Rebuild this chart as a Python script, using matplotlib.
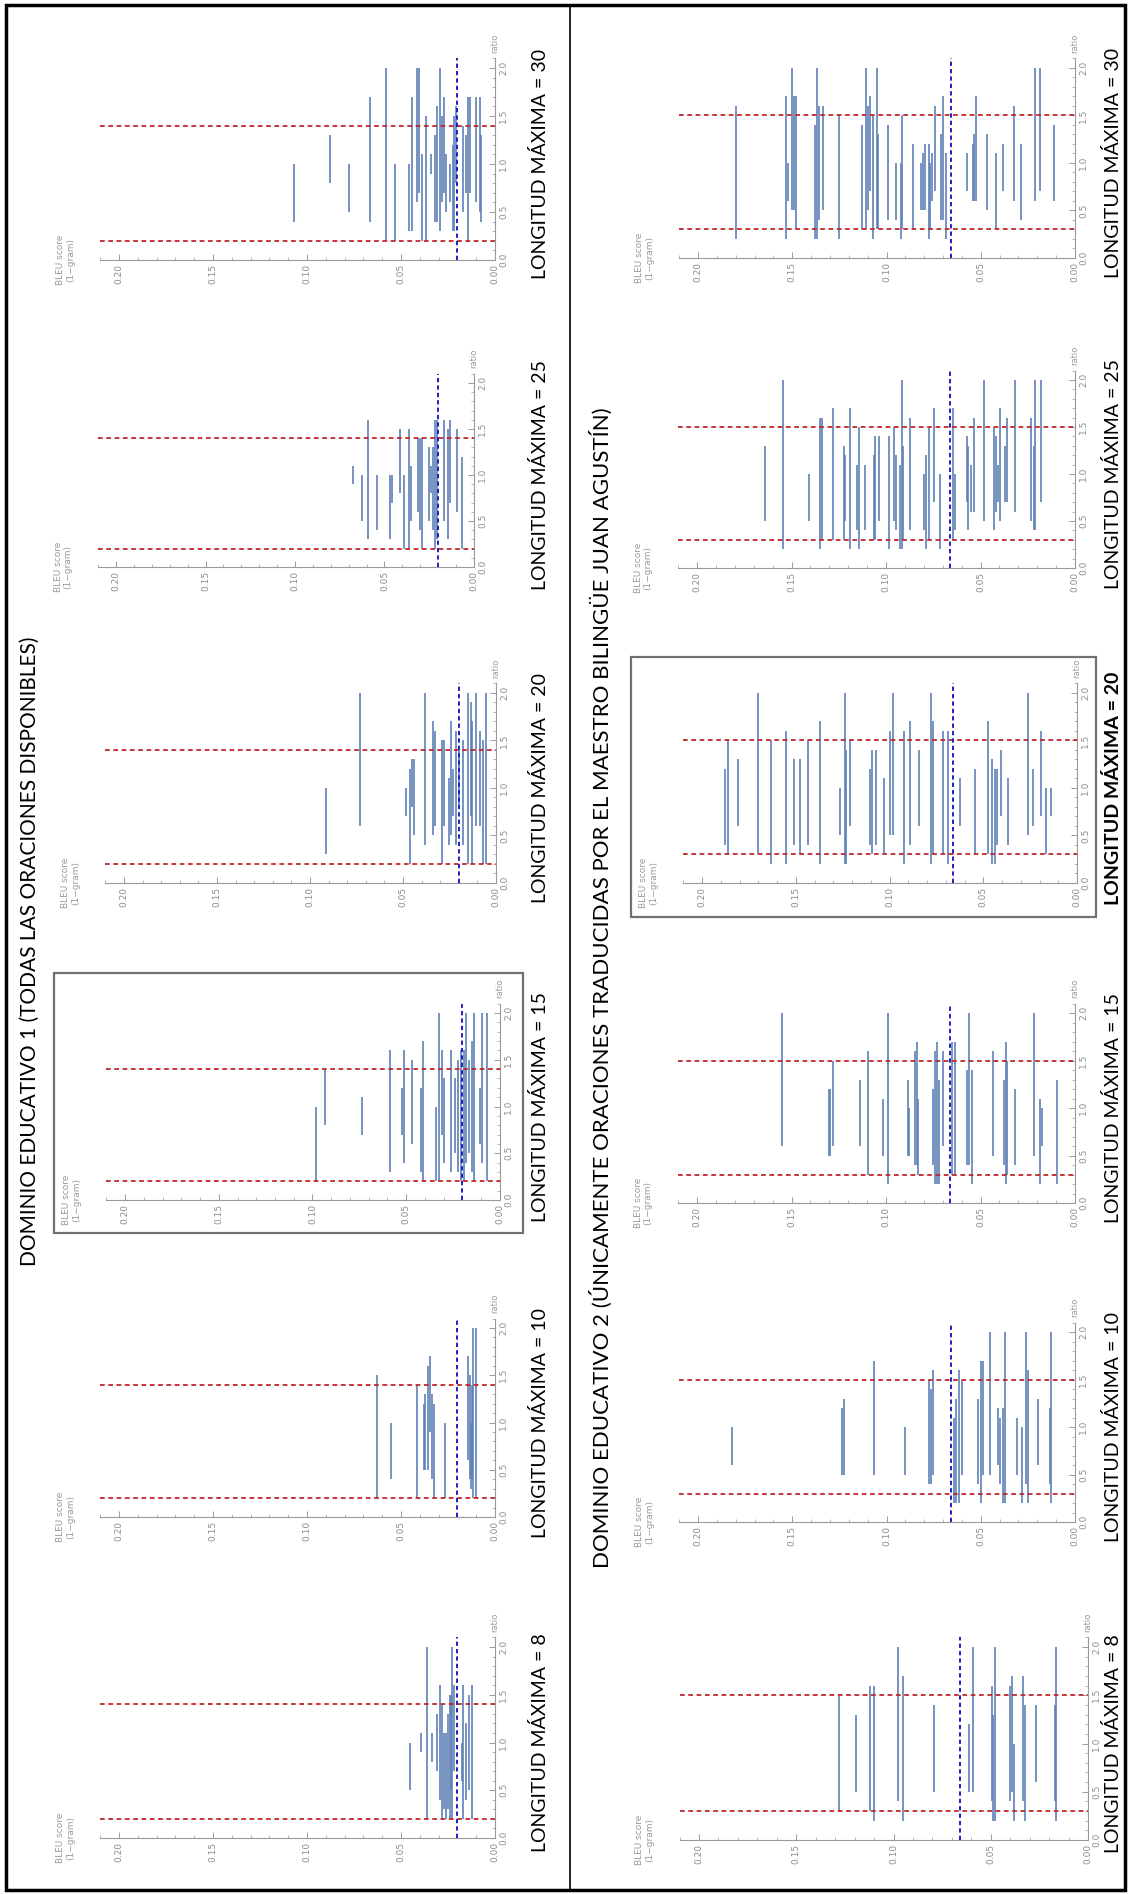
import matplotlib
matplotlib.use('Agg')
import matplotlib.pyplot as plt
from matplotlib.ticker import MultipleLocator
from matplotlib.patches import Rectangle
from matplotlib.lines import Line2D

# ---- data: (BLEU 1-gram, ratio low, ratio high) per sentence range ----
lengths = [8, 10, 15, 20, 25, 30]

d1_l8 = [(0.045, 0.5, 1.0), (0.0395, 0.9, 1.1), (0.036, 0.2, 2.0), (0.0335, 0.8, 1.1),
         (0.031, 0.7, 1.3), (0.029, 0.4, 1.6), (0.028, 0.2, 1.4), (0.027, 0.3, 1.1),
         (0.026, 0.2, 1.1), (0.025, 0.3, 1.3), (0.024, 0.2, 1.5), (0.023, 0.2, 2.0),
         (0.022, 0.7, 1.6), (0.0235, 0.5, 1.5), (0.0175, 0.6, 1.0), (0.0168, 0.2, 1.6),
         (0.0155, 0.4, 1.2), (0.0139, 0.5, 1.5), (0.012, 0.2, 1.6)]
d1_l10 = [(0.063, 0.2, 1.5), (0.0555, 0.4, 1.0), (0.0416, 0.2, 1.4), (0.038, 0.5, 1.2),
          (0.037, 0.5, 1.3), (0.0356, 0.5, 1.6), (0.0348, 0.9, 1.7), (0.0337, 0.4, 1.3),
          (0.0323, 0.2, 1.2), (0.0265, 0.2, 1.0), (0.0143, 0.6, 1.7), (0.0135, 0.4, 1.5),
          (0.013, 0.3, 1.0), (0.012, 0.4, 1.4), (0.0116, 0.2, 2.0), (0.010, 0.2, 2.0)]
d1_l15 = [(0.098, 0.2, 1.0), (0.0936, 0.8, 1.4), (0.0734, 0.7, 1.1), (0.0586, 0.3, 1.6),
          (0.052, 0.7, 1.2), (0.051, 0.4, 1.6), (0.047, 0.6, 1.5), (0.042, 0.3, 1.2),
          (0.041, 0.2, 1.7), (0.034, 0.2, 1.0), (0.0326, 0.2, 2.0), (0.031, 0.7, 1.6),
          (0.0297, 0.4, 1.3), (0.026, 0.3, 1.6), (0.024, 0.5, 1.3), (0.0225, 0.3, 1.5),
          (0.021, 0.2, 1.6), (0.019, 0.2, 1.6), (0.018, 0.4, 2.0), (0.0165, 0.5, 1.5),
          (0.015, 0.3, 1.7), (0.014, 0.2, 2.0), (0.0107, 0.6, 1.2), (0.0097, 0.4, 2.0),
          (0.0068, 0.2, 2.0)]
d1_l20 = [(0.0913, 0.3, 1.0), (0.073, 0.6, 2.0), (0.0484, 0.7, 1.0), (0.046, 0.2, 1.2),
          (0.045, 0.8, 1.3), (0.044, 0.5, 1.3), (0.038, 0.4, 2.0), (0.034, 0.5, 1.7),
          (0.033, 0.6, 1.6), (0.029, 0.2, 1.5), (0.028, 0.6, 1.5), (0.0254, 0.4, 1.1),
          (0.024, 0.5, 1.7), (0.023, 0.7, 1.2), (0.0215, 0.4, 1.6), (0.020, 0.8, 1.4),
          (0.018, 0.4, 1.5), (0.0152, 0.2, 2.0), (0.0137, 0.7, 1.9), (0.0127, 0.2, 1.7),
          (0.011, 0.6, 2.0), (0.0084, 0.6, 1.6), (0.0068, 0.2, 1.5), (0.0053, 0.2, 2.0)]
d1_l25 = [(0.0676, 0.9, 1.1), (0.0623, 0.5, 1.0), (0.059, 0.3, 1.6), (0.0544, 0.4, 1.0),
          (0.047, 0.3, 1.0), (0.046, 0.7, 1.0), (0.0416, 0.8, 1.5), (0.039, 0.2, 1.0),
          (0.0365, 0.2, 1.5), (0.035, 0.5, 1.1), (0.0315, 0.6, 1.4), (0.030, 0.4, 1.4),
          (0.029, 0.2, 1.4), (0.025, 0.5, 1.3), (0.024, 0.8, 1.1), (0.023, 0.4, 1.3),
          (0.0217, 0.2, 1.6), (0.0207, 0.3, 1.6), (0.0166, 0.5, 1.6), (0.0146, 0.3, 1.5),
          (0.0136, 0.7, 1.6), (0.0097, 0.6, 1.5), (0.0067, 0.2, 1.2)]
d1_l30 = [(0.107, 0.4, 1.0), (0.0878, 0.8, 1.3), (0.0774, 0.5, 1.0), (0.0667, 0.4, 1.7),
          (0.058, 0.2, 2.0), (0.0532, 0.2, 1.0), (0.0458, 0.3, 1.0), (0.0439, 0.3, 1.7),
          (0.0416, 0.6, 2.0), (0.0406, 0.7, 2.0), (0.0387, 0.2, 1.1), (0.0366, 0.2, 1.5),
          (0.034, 0.9, 1.1), (0.0317, 0.4, 1.3), (0.0307, 0.4, 1.6), (0.0294, 0.3, 2.0),
          (0.0284, 0.6, 1.5), (0.027, 0.7, 1.7), (0.026, 0.5, 1.1), (0.024, 0.6, 1.0),
          (0.0226, 0.3, 1.2), (0.0217, 0.3, 1.5), (0.0207, 0.8, 1.6), (0.0168, 0.5, 1.4),
          (0.0153, 0.7, 1.3), (0.0143, 0.2, 1.7), (0.0135, 0.7, 1.7), (0.010, 0.6, 1.7),
          (0.0081, 0.5, 1.7), (0.0072, 0.4, 1.3)]

d2_l8 = [(0.128, 0.3, 1.5), (0.1195, 0.5, 1.3), (0.112, 0.3, 1.6), (0.110, 0.2, 1.6),
         (0.0977, 0.4, 2.0), (0.0953, 0.2, 1.7), (0.079, 0.5, 1.4), (0.061, 0.5, 1.2),
         (0.059, 0.5, 2.0), (0.0496, 0.4, 1.6), (0.0487, 0.2, 1.3), (0.048, 0.2, 2.0),
         (0.040, 0.4, 1.6), (0.039, 0.5, 1.7), (0.038, 0.2, 1.0), (0.0335, 0.4, 1.7),
         (0.0326, 0.2, 1.4), (0.0267, 0.6, 1.4), (0.0172, 0.4, 1.4), (0.0163, 0.2, 2.0)]
d2_l10 = [(0.1817, 0.6, 1.0), (0.1236, 0.5, 1.2), (0.1226, 0.5, 1.3), (0.1066, 0.5, 1.7),
          (0.090, 0.5, 1.0), (0.0777, 0.4, 1.5), (0.0764, 0.4, 1.4), (0.0755, 0.5, 1.6),
          (0.064, 0.2, 1.1), (0.063, 0.2, 1.3), (0.0617, 0.2, 1.6), (0.060, 0.5, 1.5),
          (0.0515, 0.4, 1.3), (0.050, 0.2, 1.7), (0.049, 0.5, 1.7), (0.0453, 0.5, 2.0),
          (0.041, 0.6, 1.2), (0.0396, 0.4, 1.1), (0.038, 0.2, 1.2), (0.0374, 0.2, 2.0),
          (0.031, 0.5, 1.1), (0.0283, 0.2, 1.0), (0.0258, 0.4, 2.0), (0.025, 0.2, 1.6),
          (0.0198, 0.6, 1.3), (0.0132, 0.4, 1.2), (0.0126, 0.2, 2.0)]
d2_l15 = [(0.155, 0.6, 2.0), (0.1304, 0.5, 1.2), (0.1295, 0.5, 1.2), (0.128, 0.6, 1.5),
          (0.114, 0.6, 1.3), (0.1095, 0.3, 1.6), (0.1016, 0.5, 1.1), (0.099, 0.2, 2.0),
          (0.0885, 0.5, 1.3), (0.0876, 0.5, 1.0), (0.0847, 0.4, 1.6), (0.0838, 0.4, 1.7),
          (0.083, 0.3, 1.1), (0.075, 0.4, 1.2), (0.074, 0.2, 1.6), (0.073, 0.2, 1.7),
          (0.072, 0.2, 1.3), (0.070, 0.6, 1.6), (0.065, 0.3, 1.7), (0.0637, 0.3, 1.7),
          (0.0574, 0.4, 1.4), (0.056, 0.4, 2.0), (0.0546, 0.2, 1.4), (0.0433, 0.5, 1.6),
          (0.0376, 0.4, 1.3), (0.0367, 0.2, 1.7), (0.0358, 0.3, 1.5), (0.032, 0.4, 1.2),
          (0.0216, 0.5, 2.0), (0.0184, 0.2, 1.1), (0.0173, 0.6, 1.0), (0.0094, 0.2, 1.3)]
d2_l20 = [(0.188, 0.4, 1.2), (0.186, 0.3, 1.5), (0.181, 0.6, 1.3), (0.170, 0.3, 2.0),
          (0.163, 0.2, 1.5), (0.155, 0.2, 1.6), (0.151, 0.4, 1.3), (0.148, 0.3, 1.3),
          (0.1437, 0.4, 1.5), (0.137, 0.2, 1.7), (0.1264, 0.5, 1.0), (0.124, 0.2, 2.0),
          (0.1232, 0.2, 1.4), (0.121, 0.6, 1.5), (0.1105, 0.4, 1.2), (0.1096, 0.3, 1.4),
          (0.107, 0.4, 1.4), (0.1027, 0.3, 1.1), (0.0999, 0.5, 1.6), (0.098, 0.5, 2.0),
          (0.0925, 0.2, 1.6), (0.089, 0.4, 1.7), (0.0844, 0.6, 1.4), (0.078, 0.2, 2.0),
          (0.077, 0.3, 1.7), (0.0717, 0.3, 1.6), (0.069, 0.2, 1.6), (0.0626, 0.6, 1.1),
          (0.0544, 0.3, 1.2), (0.0474, 0.3, 1.7), (0.0455, 0.2, 1.3), (0.044, 0.2, 1.2),
          (0.0426, 0.4, 1.2), (0.0408, 0.7, 1.4), (0.0366, 0.4, 1.1), (0.026, 0.5, 2.0),
          (0.0237, 0.6, 1.2), (0.0193, 0.7, 1.6), (0.0167, 0.3, 1.0), (0.0138, 0.7, 1.0)]
d2_l25 = [(0.164, 0.5, 1.3), (0.1544, 0.2, 2.0), (0.1409, 0.5, 1.0), (0.1347, 0.2, 1.6),
          (0.1338, 0.3, 1.6), (0.128, 0.3, 1.7), (0.1224, 0.3, 1.3), (0.1215, 0.5, 1.2),
          (0.119, 0.2, 1.7), (0.1154, 0.4, 1.1), (0.1143, 0.2, 1.5), (0.111, 0.4, 1.1),
          (0.1064, 0.3, 1.2), (0.1058, 0.3, 1.4), (0.1036, 0.5, 1.4), (0.0985, 0.2, 1.4),
          (0.0957, 0.5, 1.5), (0.0948, 0.4, 1.2), (0.0927, 0.2, 1.1), (0.0917, 0.2, 2.0),
          (0.0908, 0.3, 1.3), (0.0872, 0.4, 1.6), (0.080, 0.4, 1.0), (0.079, 0.2, 1.2),
          (0.0772, 0.3, 1.5), (0.0744, 0.7, 1.7), (0.0716, 0.2, 1.0), (0.0644, 0.3, 1.7),
          (0.0636, 0.4, 1.0), (0.0574, 0.7, 1.4), (0.0565, 0.4, 1.3), (0.055, 0.6, 1.1),
          (0.0533, 0.6, 1.6), (0.048, 0.5, 2.0), (0.0427, 0.4, 1.5), (0.0418, 0.6, 1.4),
          (0.0408, 0.7, 1.1), (0.0395, 0.5, 1.7), (0.0373, 0.7, 1.3), (0.0358, 0.7, 1.6),
          (0.032, 0.6, 2.0), (0.0232, 0.5, 1.6), (0.0217, 0.4, 1.3), (0.0211, 0.4, 2.0),
          (0.0179, 0.7, 2.0)]
d2_l30 = [(0.180, 0.2, 1.6), (0.1534, 0.2, 1.7), (0.152, 0.6, 1.0), (0.150, 0.5, 2.0),
          (0.149, 0.5, 1.7), (0.148, 0.3, 1.7), (0.1377, 0.2, 1.4), (0.1368, 0.2, 2.0),
          (0.136, 0.4, 1.6), (0.1336, 0.5, 1.6), (0.125, 0.2, 1.5), (0.113, 0.3, 1.4),
          (0.1108, 0.3, 2.0), (0.110, 0.5, 1.6), (0.1089, 0.7, 1.7), (0.107, 0.2, 1.5),
          (0.105, 0.3, 2.0), (0.1045, 0.3, 1.3), (0.099, 0.4, 1.4), (0.095, 0.4, 1.0),
          (0.0925, 0.2, 1.0), (0.092, 0.3, 1.5), (0.0858, 0.3, 1.2), (0.0817, 0.5, 1.0),
          (0.0806, 0.5, 1.1), (0.0797, 0.5, 1.2), (0.0774, 0.2, 1.2), (0.0768, 0.3, 1.0),
          (0.0758, 0.6, 1.1), (0.0742, 0.7, 1.6), (0.0711, 0.4, 1.3), (0.0702, 0.4, 1.7),
          (0.0685, 0.2, 1.1), (0.0572, 0.7, 1.1), (0.0542, 0.6, 1.2), (0.0535, 0.6, 1.3),
          (0.0523, 0.6, 1.7), (0.0466, 0.5, 1.3), (0.0421, 0.3, 1.1), (0.0383, 0.7, 1.2),
          (0.0325, 0.6, 1.6), (0.0287, 0.4, 1.2), (0.0211, 0.6, 2.0), (0.0185, 0.7, 2.0),
          (0.011, 0.6, 1.4)]

d1_panels = [d1_l8, d1_l10, d1_l15, d1_l20, d1_l25, d1_l30]
d2_panels = [d2_l8, d2_l10, d2_l15, d2_l20, d2_l25, d2_l30]

# ratio cut-offs (red) and mean BLEU (blue)
d1_ratio_cuts = [0.2, 1.4]
d2_ratio_cuts = [0.3, 1.5]
d1_bleu_mean = 0.02
d2_bleu_mean = 0.066

title1 = 'DOMINIO EDUCATIVO 1 (TODAS LAS ORACIONES DISPONIBLES)'
title2 = ('DOMINIO EDUCATIVO 2 (ÚNICAMENTE ORACIONES TRADUCIDAS POR EL MAESTRO '
          'BILINGÜE JUAN AGUSTÍN)')

# ---- layout in pixels: [x at BLEU 0.2, x at BLEU 0, y at ratio 2, y at ratio 0] ----
W, H = 1128, 1894
left_pos = [[119, 495, 1647, 1838], [119, 495, 1328, 1517], [125, 500, 1013, 1200],
            [124, 496, 693, 883], [116, 474, 383, 567], [119, 495, 68, 260]]
right_pos = [[699, 1088, 1647, 1840], [698, 1075, 1332, 1522], [697, 1075, 1013, 1203],
             [702, 1077, 693, 883], [697, 1075, 380, 568], [698, 1075, 68, 258]]

SEG = '#5E81B5'
RED = '#C0262B'
BLUE = '#1F1FC0'
GRAY = '#9A9A9A'
FONT = ['Lato', 'DejaVu Sans']

fig = plt.figure(figsize=(W / 100, H / 100), dpi=100)
fig.patch.set_facecolor('white')


def make_axes(pos):
    xa, xb, ya, yb = pos
    left = xb - (xb - xa) * 1.05
    top = yb - (yb - ya) * 1.05
    return fig.add_axes([left / W, 1 - yb / H, (xb - left) / W, (yb - top) / H])


def draw_panel(pos, segs, cuts, mean):
    ax = make_axes(pos)
    ax.set_xlim(0.21, 0)
    ax.set_ylim(0, 2.1)
    ax.patch.set_alpha(0)
    for s in ['top', 'left']:
        ax.spines[s].set_visible(False)
    for s in ['bottom', 'right']:
        ax.spines[s].set_color(GRAY)
        ax.spines[s].set_linewidth(0.8)
    ax.yaxis.tick_right()
    ax.set_xticks([0, 0.05, 0.10, 0.15, 0.20])
    ax.set_xticklabels(['0.00', '0.05', '0.10', '0.15', '0.20'], rotation=90)
    ax.set_yticks([0, 0.5, 1.0, 1.5, 2.0])
    ax.set_yticklabels(['0.0', '0.5', '1.0', '1.5', '2.0'], rotation=90, va='center')
    ax.xaxis.set_minor_locator(MultipleLocator(0.01))
    ax.yaxis.set_minor_locator(MultipleLocator(0.1))
    ax.tick_params(which='major', direction='in', length=4, width=0.7, color=GRAY,
                   labelcolor='#8C8C8C', labelsize=6.5, pad=3)
    ax.tick_params(which='minor', direction='in', length=2, width=0.5, color=GRAY)

    b = [s[0] for s in segs]
    lo = [s[1] for s in segs]
    hi = [s[2] for s in segs]
    ax.vlines(b, lo, hi, colors=SEG, lw=1.2, zorder=2)
    for c in cuts:
        ax.axhline(c, color=RED, ls=(0, (2.6, 2.0)), lw=1.3, zorder=3)
    ax.axvline(mean, color=BLUE, ls=(0, (2.2, 1.6)), lw=1.4, zorder=4)

    ax.annotate('ratio', xy=(0, 2.1), xycoords='data', xytext=(0, 4),
                textcoords='offset points', rotation=90, ha='center', va='bottom',
                fontsize=6, color=GRAY)
    ax.annotate('BLEU score\n(1\u2212gram)', xy=(0.21, 0), xycoords='data',
                xytext=(-25, 0), textcoords='offset points', rotation=90,
                ha='center', va='center', fontsize=6.5, color=GRAY, linespacing=1.1)
    return ax


for i, L in enumerate(lengths):
    draw_panel(left_pos[i], d1_panels[i], d1_ratio_cuts, d1_bleu_mean)
    draw_panel(right_pos[i], d2_panels[i], d2_ratio_cuts, d2_bleu_mean)

    yc = (left_pos[i][2] + left_pos[i][3]) / 2
    fig.text(540 / W, 1 - yc / H, f'LONGITUD MÁXIMA = {L}', rotation=90,
             ha='center', va='center', fontsize=14, family=FONT)
    yc = (right_pos[i][2] + right_pos[i][3]) / 2
    fig.text(1113 / W, 1 - yc / H, f'LONGITUD MÁXIMA = {L}', rotation=90,
             ha='center', va='center', fontsize=14, family=FONT,
             weight='bold' if L == 20 else 'normal')

# column titles
fig.text(30 / W, 1 - 951 / H, title1, rotation=90, ha='center', va='center',
         fontsize=15, family=FONT)
fig.text(601 / W, 1 - 988 / H, title2, rotation=90, ha='center', va='center',
         fontsize=16, family=FONT)

# highlight boxes around the chosen panels
fig.add_artist(Rectangle((54 / W, 1 - 1233 / H), (523 - 54) / W, (1233 - 973) / H,
                         transform=fig.transFigure, fill=False, ec='#707070', lw=1.6))
fig.add_artist(Rectangle((631 / W, 1 - 917 / H), (1096 - 631) / W, (917 - 657) / H,
                         transform=fig.transFigure, fill=False, ec='#707070', lw=1.6))

# page border and column divider
fig.add_artist(Rectangle((6 / W, 1 - 1890 / H), (1125 - 6) / W, (1890 - 5) / H,
                         transform=fig.transFigure, fill=False, ec='black', lw=2.5))
fig.add_artist(Line2D([570 / W, 570 / W], [1 - 5 / H, 1 - 1890 / H],
                      transform=fig.transFigure, color='black', lw=1.2))

fig.savefig('out.png', dpi=100)
